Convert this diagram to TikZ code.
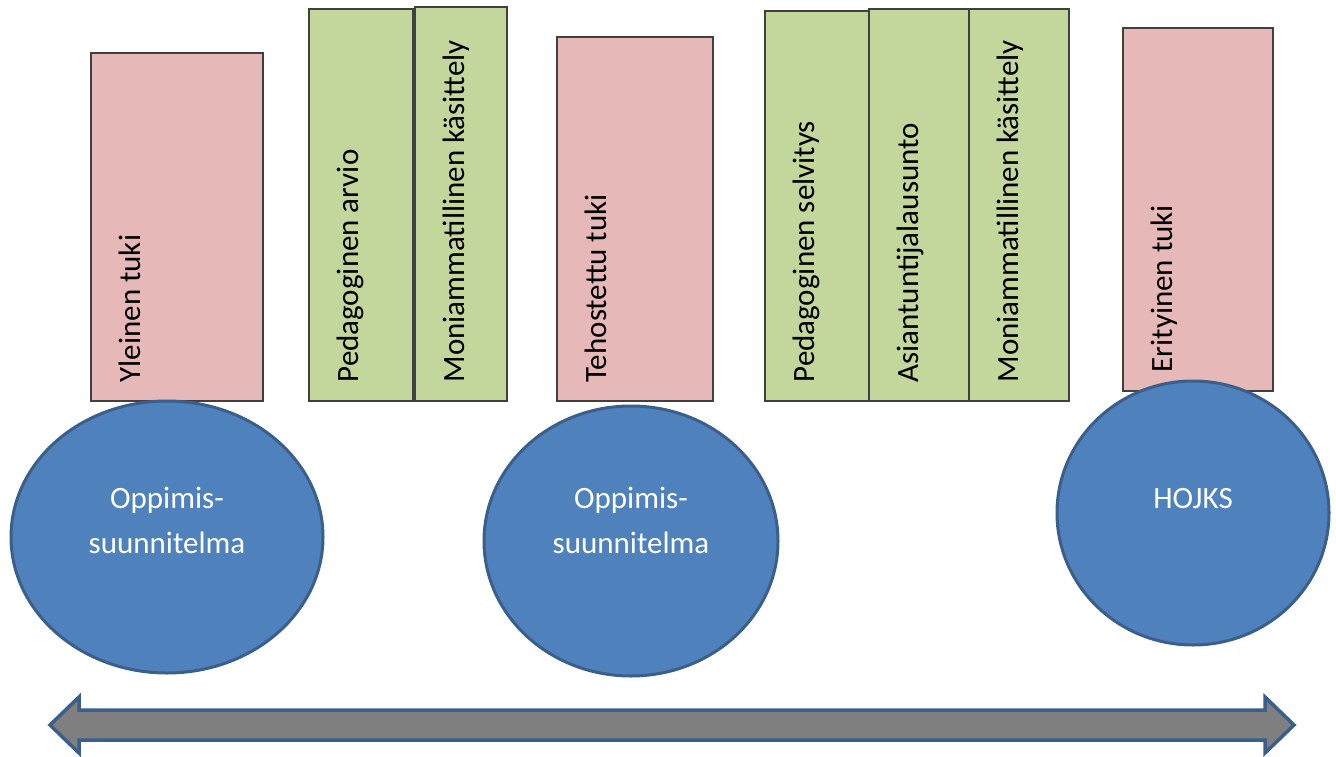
\documentclass[tikz,border=0pt]{standalone}
\usepackage{fontspec}
\setmainfont{Carlito}
\usetikzlibrary{shapes.geometric}
\definecolor{pinkfill}{HTML}{E6B9B8}
\definecolor{greenfill}{HTML}{C3D69B}
\definecolor{bluefill}{HTML}{4F81BD}
\definecolor{blueline}{HTML}{3A5F8B}
\definecolor{rectline}{HTML}{404040}
\definecolor{arrowfill}{HTML}{7F7F7F}
\tikzset{
  boxbase/.style={draw=rectline, line width=1.6pt, anchor=north west, inner sep=0pt},
  pinkbox/.style={boxbase, fill=pinkfill},
  greenbox/.style={boxbase, fill=greenfill},
  vtext/.style={rotate=90, anchor=base west, inner sep=0pt, font=\fontsize{31}{37}\selectfont, text=black},
  blob/.style={ellipse, draw=blueline, line width=3pt, fill=bluefill, inner sep=0pt},
  blobtext/.style={align=center, anchor=base, inner sep=0pt, text=white, font=\fontsize{31}{45}\selectfont},
  bigarrow/.style={draw=blueline, line width=3.5pt, fill=arrowfill, line join=miter}
}
\begin{document}
\begin{tikzpicture}[x=1pt,y=-1pt]
\useasboundingbox (0,0) rectangle (1336,757);
% boxes
\node[pinkbox, minimum width=172pt, minimum height=348pt] (b1) at (90,52) {};
\node[greenbox, minimum width=104pt, minimum height=392pt] (b2) at (308,8) {};
\node[greenbox, minimum width=92pt, minimum height=394pt] (b3) at (414,6) {};
\node[pinkbox, minimum width=156pt, minimum height=364pt] (b4) at (556,36) {};
\node[greenbox, minimum width=104pt, minimum height=390pt] (b5) at (764,10) {};
\node[greenbox, minimum width=100pt, minimum height=392pt] (b6) at (868,8) {};
\node[greenbox, minimum width=100pt, minimum height=392pt] (b7) at (968,8) {};
\node[pinkbox, minimum width=150pt, minimum height=363pt] (b8) at (1122,27) {};
% vertical texts
\node[vtext] (t1) at ([shift={(50pt,19pt)}]b1.south west) {Yleinen tuki};
\node[vtext] (t2) at ([shift={(50pt,19pt)}]b2.south west) {Pedagoginen arvio};
\node[vtext] (t3) at ([shift={(50pt,19pt)}]b3.south west) {Moniammatillinen käsittely};
\node[vtext] (t4) at ([shift={(50pt,19pt)}]b4.south west) {Tehostettu tuki};
\node[vtext] (t5) at ([shift={(50pt,19pt)}]b5.south west) {Pedagoginen selvitys};
\node[vtext] (t6) at ([shift={(50pt,19pt)}]b6.south west) {Asiantuntijalausunto};
\node[vtext] (t7) at ([shift={(50pt,19pt)}]b7.south west) {Moniammatillinen käsittely};
\node[vtext] (t8) at ([shift={(50pt,19pt)}]b8.south west) {Erityinen tuki};
% ellipses
\node[blob, minimum width=312pt, minimum height=272pt] (e1) at (167,537) {};
\node[blob, minimum width=294pt, minimum height=270pt] (e2) at (631,541) {};
\node[blob, minimum width=272pt, minimum height=264pt] (e3) at (1193,513) {};
\node[blobtext] (l1) at (167,553) {Oppimis-\\suunnitelma};
\node[blobtext] (l2) at (631,553) {Oppimis-\\suunnitelma};
\node[blobtext] (l3) at (1193,508) {HOJKS};
% double arrow
\draw[bigarrow] (50,725) -- (79,697) -- (79,710) -- (1265,710) -- (1265,697)
  -- (1294,725) -- (1265,753) -- (1265,740) -- (79,740) -- (79,753) -- cycle;
\end{tikzpicture}
\end{document}
